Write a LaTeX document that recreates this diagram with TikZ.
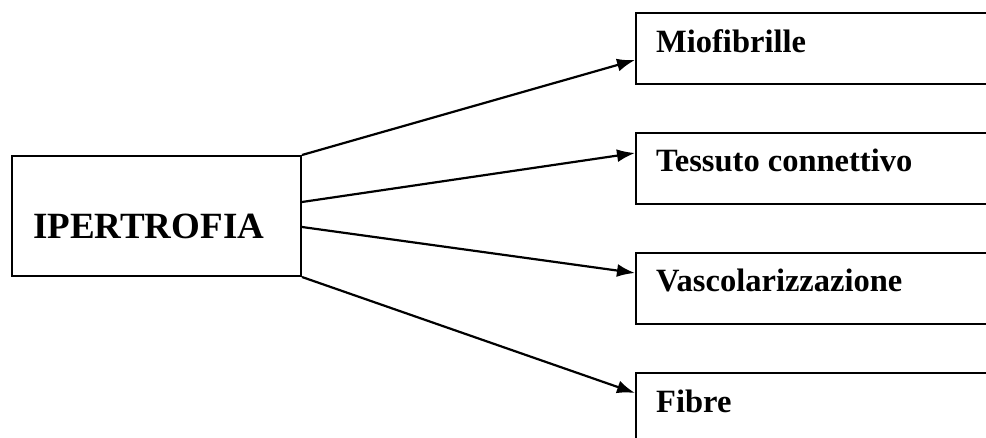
\documentclass[tikz,border=0pt]{standalone}
\usepackage{fontspec}
\setmainfont{Liberation Serif}
\usetikzlibrary{arrows.meta}
\begin{document}
\begin{tikzpicture}[x=1pt,y=-1pt,
  boxshape/.style={draw,line width=2pt,rectangle,inner sep=0pt,anchor=north west},
  bigtxt/.style={anchor=base west,inner sep=0pt,font=\bfseries\fontsize{37}{40}\selectfont},
  txt/.style={anchor=base west,inner sep=0pt,font=\bfseries\fontsize{32.5}{36}\selectfont},
  conn/.style={line width=2.2pt,-{Latex[length=18pt,width=13pt]}}]
\useasboundingbox (0,0) rectangle (986,438);
\clip (0,0) rectangle (986,438);
\node[boxshape,minimum width=289pt,minimum height=120pt] (ip) at (11,155) {};
\node[bigtxt] (ipt) at (33,239) {IPERTROFIA};
\node[boxshape,minimum width=400pt,minimum height=71pt] (mio) at (635,12) {};
\node[boxshape,minimum width=400pt,minimum height=71pt] (tes) at (635,132) {};
\node[boxshape,minimum width=400pt,minimum height=71pt] (vas) at (635,252) {};
\node[boxshape,minimum width=400pt,minimum height=71pt] (fib) at (635,372) {};
\node[txt] (miot) at (656,53) {Miofibrille};
\node[txt] (test) at (656,172) {Tessuto connettivo};
\node[txt] (vast) at (656,292) {Vascolarizzazione};
\node[txt] (fibt) at (656,413) {Fibre};
\draw[conn] (ip.north east) -- ([yshift=-48pt]mio.north west);
\draw[conn] ([yshift=-47pt]ip.north east) -- ([yshift=-21pt]tes.north west);
\draw[conn] ([yshift=-72pt]ip.north east) -- ([yshift=-21pt]vas.north west);
\draw[conn] (ip.south east) -- ([yshift=-21pt]fib.north west);
\end{tikzpicture}
\end{document}
